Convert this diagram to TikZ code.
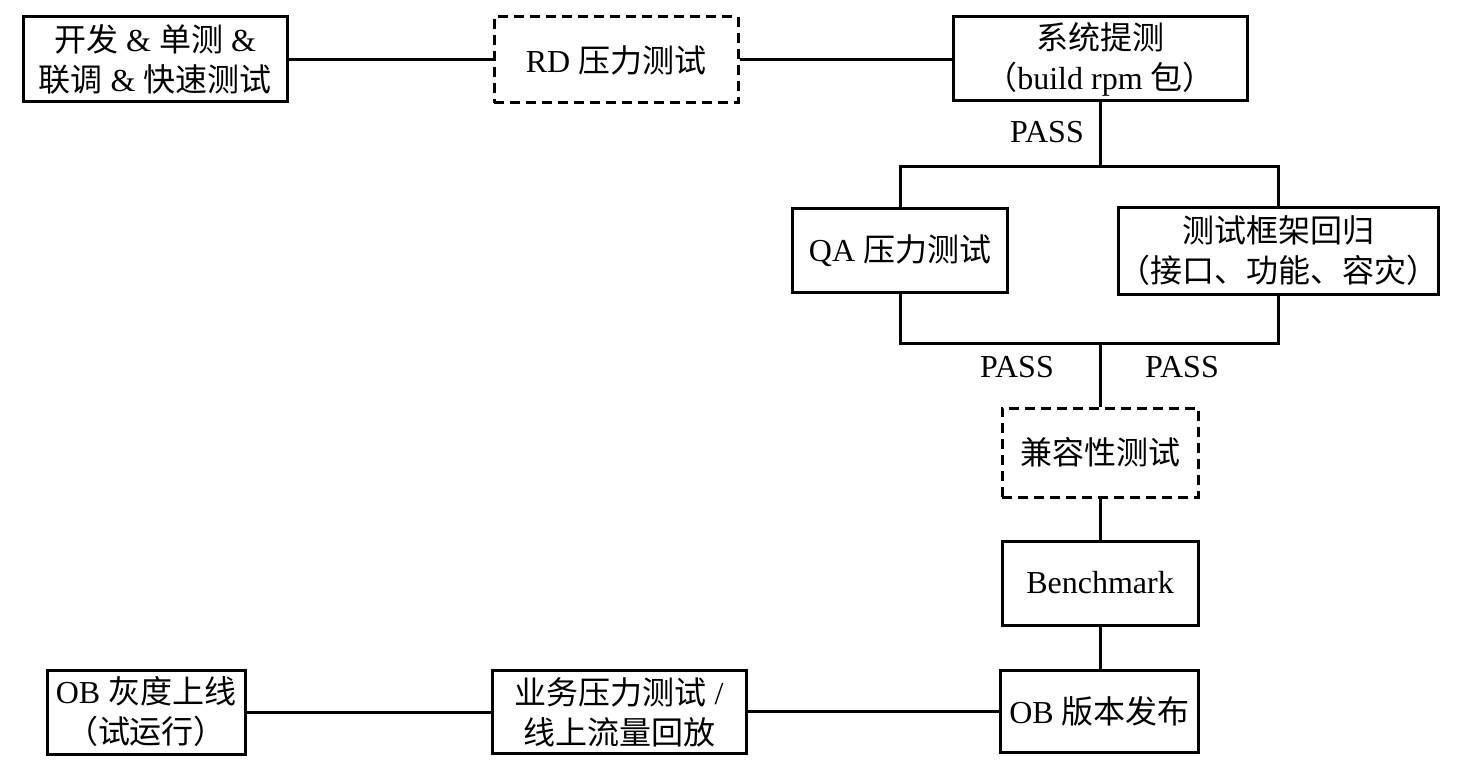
\documentclass[tikz,border=0pt]{standalone}
\usepackage{fontspec}
\setmainfont{Liberation Serif}
\newfontfamily\cjk{Noto Sans CJK SC}
\newcommand\zh[1]{{\cjk #1}}
\begin{document}
\begin{tikzpicture}[x=0.5pt,y=-0.5pt,
  every node/.style={font=\fontsize{16pt}{20pt}\selectfont},
  box/.style={draw,line width=1.5pt,rectangle,inner sep=0pt,align=center},
  dbox/.style={box,dash pattern=on 5pt off 3pt},
  conn/.style={line width=1.5pt},
  lbl/.style={inner sep=0pt}]
\useasboundingbox (0,0) rectangle (1463,781);
\node[box,minimum width=132pt,minimum height=42.5pt] (dev) at (155,59.5) {\zh{开发} \& \zh{单测} \&\\\zh{联调} \& \zh{快速测试}};
\node[dbox,minimum width=122pt,minimum height=43pt] (rd) at (616,60) {RD \zh{压力测试}};
\node[box,minimum width=147pt,minimum height=42pt] (sys) at (1100,59) {\zh{系统提测}\\\zh{（}build rpm \zh{包）}};
\node[box,minimum width=107.5pt,minimum height=41.5pt] (qa) at (900,250.5) {QA \zh{压力测试}};
\node[box,minimum width=160pt,minimum height=43pt] (reg) at (1278,251) {\zh{测试框架回归}\\\zh{（接口、功能、容灾）}};
\node[dbox,minimum width=98pt,minimum height=44.5pt] (comp) at (1100,452.5) {\zh{兼容性测试}};
\node[box,minimum width=98pt,minimum height=42pt] (bench) at (1100,583) {Benchmark};
\node[box,minimum width=99pt,minimum height=41pt] (rel) at (1099.5,711) {OB \zh{版本发布}};
\node[box,minimum width=127pt,minimum height=41.5pt] (biz) at (619,712) {\zh{业务压力测试} /\\\zh{线上流量回放}};
\node[box,minimum width=99pt,minimum height=42pt] (gray) at (146,712) {OB \zh{灰度上线}\\\zh{（试运行）}};
\coordinate (j1) at (1100,167);
\coordinate (j2) at (1100,343);
\draw[conn] (dev.east) -- (dev.east -| rd.west);
\draw[conn] (rd.east) -- (rd.east -| sys.west);
\draw[conn] (sys.south) -- (j1);
\draw[conn] (qa.north) |- (j1) -| (reg.north);
\draw[conn] (qa.south) |- (j2) -| (reg.south);
\draw[conn] (j2) -- (comp.north);
\draw[conn] (comp.south) -- (comp.south |- bench.north);
\draw[conn] (bench.south) -- (bench.south |- rel.north);
\draw[conn] (rel.west) -- (rel.west -| biz.east);
\draw[conn] (biz.west) -- (biz.west -| gray.east);
\node[lbl] (p1) at (1047,132) {PASS};
\node[lbl] (p2) at (1017,367) {PASS};
\node[lbl] (p3) at (1182,367) {PASS};
\end{tikzpicture}
\end{document}
